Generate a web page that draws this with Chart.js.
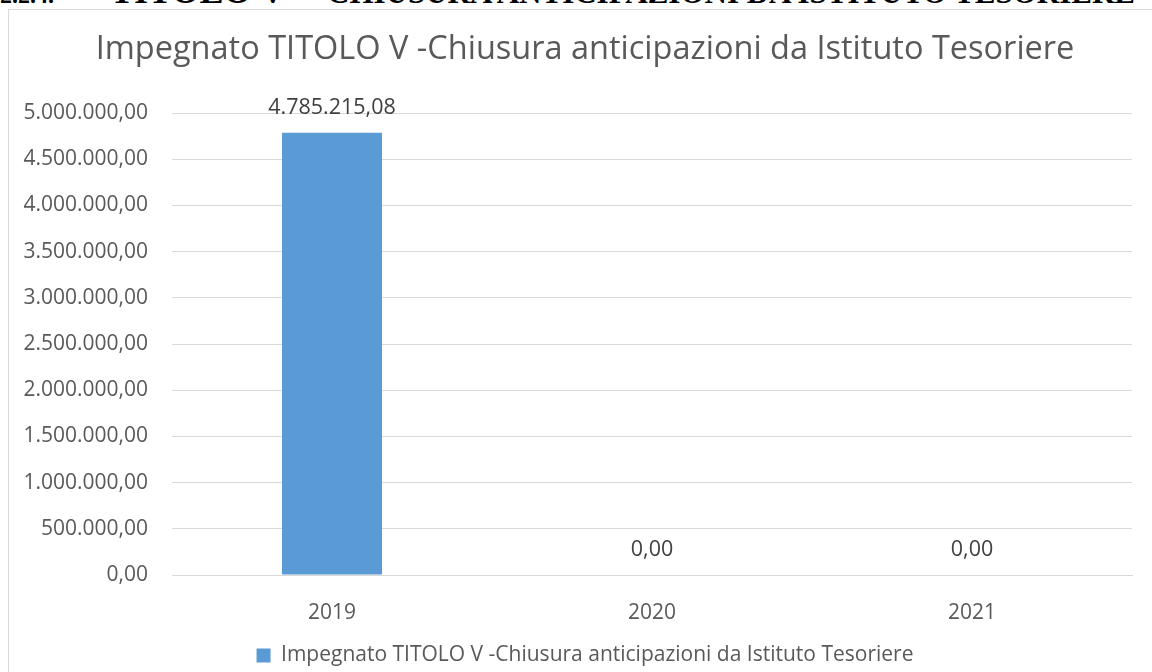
<!DOCTYPE html>
<html>
<head>
<meta charset="utf-8">
<style>
  html, body { margin: 0; padding: 0; background: #fff; overflow: hidden; }
  #titolo {
    position: absolute; left: 0; top: -27px; white-space: nowrap;
    font: bold 36px/36px "Liberation Serif", serif; color: #000;
  }
  #titolo span { display: inline-block; }
  #titolo .num { width: 110px; font-size: 24px; }
  #titolo .tit { width: 217px; }
  #titolo .sc { font-size: 31px; }
  #cornice {
    position: absolute; left: 8px; top: 9px; width: 1200px; height: 700px;
    border: 1px solid #d9d9d9; box-sizing: border-box;
  }
  #box { position: absolute; left: 0; top: 0; width: 1152px; height: 700px; }
</style>
</head>
<body>
<div id="titolo"><span class="num">2.2.4.</span><span class="tit">TITOLO V –</span><span class="sc">CHIUSURA ANTICIPAZIONI DA ISTITUTO TESORIERE</span></div>
<div id="cornice"></div>
<div id="box"><canvas id="grafico"></canvas></div>

<script src="https://cdn.jsdelivr.net/npm/chart.js"></script>
<script>
  const anni = ["2019", "2020", "2021"];
  const impegnato = [4785215.08, 0, 0];
  const nomeSerie = "Impegnato TITOLO V -Chiusura anticipazioni da Istituto Tesoriere";

  // formato italiano: 5.000.000,00
  function formatoIt(v) {
    const parti = Number(v).toFixed(2).split(".");
    parti[0] = parti[0].replace(/\B(?=(\d{3})+(?!\d))/g, ".");
    return parti[0] + "," + parti[1];
  }

  const FONT = "'Open Sans', sans-serif";
  const GRIGIO = "#595959";

  // etichette sopra le barre
  const etichette = {
    id: "etichette",
    afterDatasetsDraw(chart) {
      const ctx = chart.ctx;
      ctx.save();
      ctx.font = "21.5px " + FONT;
      ctx.fillStyle = "#404040";
      ctx.textAlign = "center";
      ctx.textBaseline = "middle";
      chart.getDatasetMeta(0).data.forEach((bar, i) => {
        ctx.fillText(formatoIt(impegnato[i]), bar.x, bar.y - 25);
      });
      ctx.restore();
    }
  };

  const ctx = document.getElementById("grafico").getContext("2d");
  new Chart(ctx, {
    type: "bar",
    data: {
      labels: anni,
      datasets: [{
        label: nomeSerie,
        data: impegnato,
        backgroundColor: "#5B9BD5",
        barPercentage: 0.3125,
        categoryPercentage: 1
      }]
    },
    options: {
      responsive: true,
      maintainAspectRatio: false,
      animation: false,
      layout: { padding: { left: 18, right: 0, bottom: 24 } },
      plugins: {
        legend: {
          position: "bottom",
          labels: {
            color: GRIGIO,
            font: { family: FONT, size: 21 },
            boxWidth: 14, boxHeight: 14,
            padding: 10
          }
        },
        title: {
          display: true,
          text: nomeSerie,
          color: GRIGIO,
          font: { family: FONT, size: 32.5, weight: "normal" },
          padding: { top: 30, bottom: 44 }
        },
        tooltip: { enabled: false }
      },
      scales: {
        x: {
          grid: { display: false },
          border: { color: "#d9d9d9", width: 1 },
          ticks: { color: GRIGIO, font: { family: FONT, size: 21 }, padding: 17 },
          afterFit(scale) { scale.height = 60; }
        },
        y: {
          min: 0, max: 5000000,
          border: { display: false },
          grid: { color: "#d9d9d9", lineWidth: 1, drawTicks: false },
          ticks: {
            stepSize: 500000,
            color: GRIGIO,
            font: { family: FONT, size: 21 },
            padding: 24,
            callback: v => formatoIt(v)
          },
          afterFit(scale) { scale.width = 154; }
        },
        // asse vuoto a destra, solo per lasciare il margine
        destra: {
          position: "right",
          min: 0, max: 5000000,
          border: { display: false },
          grid: { display: false },
          ticks: { display: false },
          afterFit(scale) { scale.width = 20; }
        }
      }
    },
    plugins: [etichette]
  });
</script>
</body>
</html>
